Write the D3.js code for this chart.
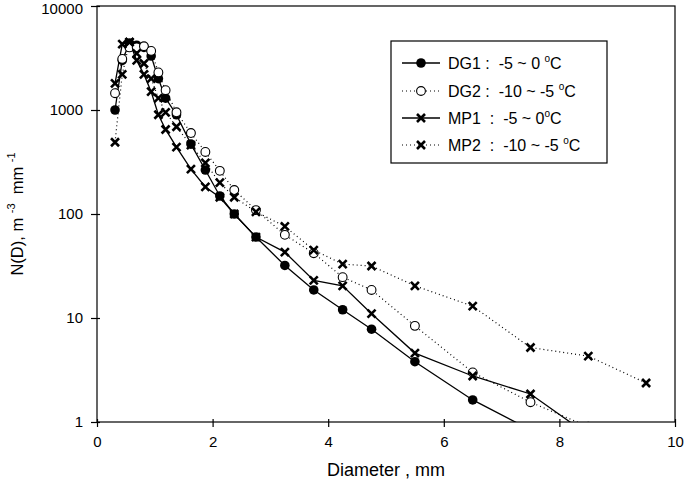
<!DOCTYPE html>
<html>
<head>
<meta charset="utf-8">
<script src="https://cdn.jsdelivr.net/npm/d3@7"></script>
<style>
  body { margin: 0; background: #fff; }
  svg { display: block; font-family: Arial, "Liberation Sans", sans-serif; }
  text { white-space: pre; }
</style>
</head>
<body>
<div id="chart"></div>
<script>
// drop size class centres, mm
var diam = [0.312, 0.437, 0.562, 0.687, 0.812, 0.937, 1.062, 1.187, 1.375, 1.625, 1.875,
  2.125, 2.375, 2.75, 3.25, 3.75, 4.25, 4.75, 5.5, 6.5, 7.5, 8.5, 9.5]

// N(D), m-3 mm-1 (null = no value)
var dg1 = [1000, 3000, 4400, 4200, 4000, 3300, 2000, 1300, 900, 470, 265,
  149, 100, 60, 32, 18.6, 12, 7.8, 3.8, 1.63, 0.84, null, null]
var dg2 = [1450, 3100, 4000, 4000, 4100, 3700, 2300, 1550, 950, 600, 395,
  260, 170, 109, 63, 42, 24.7, 18.6, 8.4, 3.0, 1.55, 0.9, null]
var mp1 = [1800, 4300, 4500, 3000, 2200, 1500, 900, 650, 440, 270, 182,
  145, 100, 60, 43, 23, 20.4, 11, 4.6, 2.77, 1.86, 0.75, null]
var mp2 = [490, 2200, 4500, 3500, 2800, 2000, 1300, 950, 690, 460, 310,
  200, 145, 105, 76, 45, 33, 31.6, 20.4, 13, 5.2, 4.3, 2.37]

var seriesNames = ['DG1', 'DG2', 'MP1', 'MP2']
var legendText = ['DG1 :  -5 ~ 0 ', 'DG2 :  -10 ~ -5 ', 'MP1  :  -5 ~ 0', 'MP2  :  -10 ~ -5 ']
var xTicks = [0, 2, 4, 6, 8, 10]
var yTicks = [1, 10, 100, 1000, 10000]

var width = 685
var height = 492
var margin = { top: 6, right: 10, bottom: 70, left: 97 }

var series = [
  { name: seriesNames[0], values: dg1, dotted: false, marker: 'dot' },
  { name: seriesNames[1], values: dg2, dotted: true, marker: 'ring' },
  { name: seriesNames[2], values: mp1, dotted: false, marker: 'cross' },
  { name: seriesNames[3], values: mp2, dotted: true, marker: 'cross' }
]

var x = d3.scaleLinear().domain([0, 10]).range([margin.left, width - margin.right])
var y = d3.scaleLog().domain([1, 10000]).range([height - margin.bottom, margin.top])

var svg = d3.select('#chart').append('svg')
  .attr('width', width)
  .attr('height', height)

svg.append('defs').append('clipPath').attr('id', 'plot')
  .append('rect')
  .attr('x', margin.left)
  .attr('y', margin.top)
  .attr('width', width - margin.left - margin.right)
  .attr('height', height - margin.top - margin.bottom)

// frame
svg.append('rect')
  .attr('x', margin.left)
  .attr('y', margin.top)
  .attr('width', width - margin.left - margin.right)
  .attr('height', height - margin.top - margin.bottom)
  .attr('fill', 'none')
  .attr('stroke', '#000')
  .attr('stroke-width', 1.2)

// axes
var xAxis = svg.append('g')
  .attr('transform', 'translate(0,' + (height - margin.bottom) + ')')
  .call(d3.axisBottom(x).tickValues(xTicks).tickFormat(d3.format('d')).tickSize(5).tickSizeOuter(0).tickPadding(9))
var yAxis = svg.append('g')
  .attr('transform', 'translate(' + margin.left + ',0)')
  .call(d3.axisLeft(y).tickValues(yTicks).tickFormat(d3.format('d')).tickSize(6).tickSizeOuter(0).tickPadding(8))

xAxis.selectAll('.tick line').attr('y1', -3)
yAxis.selectAll('.tick line').attr('x1', 3)
svg.selectAll('.domain').remove()
svg.selectAll('.tick line').attr('stroke', '#000').attr('stroke-width', 1.2)
svg.selectAll('.tick text').attr('font-size', 15).attr('fill', '#000')
  .attr('font-family', 'Arial, "Liberation Sans", sans-serif')
// keep the top label inside the page
yAxis.selectAll('.tick text').filter(d => d === 10000).attr('dy', '0.5em')

// axis titles
svg.append('text')
  .attr('x', (margin.left + width - margin.right) / 2)
  .attr('y', 476)
  .attr('text-anchor', 'middle')
  .attr('font-size', 18)
  .text('Diameter , mm')

var yTitle = svg.append('text')
  .attr('transform', 'translate(23,' + ((margin.top + height - margin.bottom) / 2) + ') rotate(-90)')
  .attr('text-anchor', 'middle')
  .attr('font-size', 16.5)
yTitle.append('tspan').text('N(D), m ')
yTitle.append('tspan').attr('font-size', 11).attr('dy', -8).text('-3')
yTitle.append('tspan').attr('dy', 8).text('  mm ')
yTitle.append('tspan').attr('font-size', 11).attr('dy', -8).text('-1')

// markers
function drawMarker(g, kind) {
  if (kind === 'dot') {
    g.append('circle').attr('r', 4.8).attr('fill', '#000')
  } else if (kind === 'ring') {
    g.append('circle').attr('r', 4.4).attr('fill', '#fff').attr('stroke', '#000').attr('stroke-width', 1.1)
  } else {
    g.append('path').attr('d', 'M-4,-4L4,4M-4,4L4,-4')
      .attr('stroke', '#000').attr('stroke-width', 2.6).attr('fill', 'none')
  }
}

var plot = svg.append('g').attr('clip-path', 'url(#plot)')

var line = d3.line()
  .defined(d => d.v != null)
  .x(d => x(d.d))
  .y(d => y(d.v))

series.forEach(s => {
  var pts = diam.map((d, i) => ({ d: d, v: s.values[i] })).filter(p => p.v != null)
  plot.append('path')
    .datum(pts)
    .attr('d', line)
    .attr('fill', 'none')
    .attr('stroke', '#000')
    .attr('stroke-width', s.dotted ? 1.2 : 1.3)
    .attr('stroke-dasharray', s.dotted ? '1,3' : null)
})

series.forEach(s => {
  var pts = diam.map((d, i) => ({ d: d, v: s.values[i] })).filter(p => p.v != null)
  pts.forEach(p => {
    var g = plot.append('g').attr('transform', 'translate(' + x(p.d) + ',' + y(p.v) + ')')
    drawMarker(g, s.marker)
  })
})

// legend
var legend = svg.append('g')
legend.append('rect')
  .attr('x', 391).attr('y', 41)
  .attr('width', 216).attr('height', 122)
  .attr('fill', '#fff')
  .attr('stroke', '#000')
  .attr('stroke-width', 1.2)

var rowY = [63, 91, 118, 145]
series.forEach((s, i) => {
  var row = legend.append('g').attr('transform', 'translate(0,' + rowY[i] + ')')
  row.append('line')
    .attr('x1', 402).attr('x2', 440)
    .attr('stroke', '#000')
    .attr('stroke-width', s.dotted ? 1.2 : 1.3)
    .attr('stroke-dasharray', s.dotted ? '1,3' : null)
  drawMarker(row.append('g').attr('transform', 'translate(421,0)'), s.marker)
  var t = row.append('text')
    .attr('x', 448)
    .attr('y', 6)
    .attr('font-size', 16)
  t.append('tspan').text(legendText[i])
  t.append('tspan').attr('font-size', 10).attr('dy', -7).text('o')
  t.append('tspan').attr('dy', 7).text('C')
})
</script>
</body>
</html>
